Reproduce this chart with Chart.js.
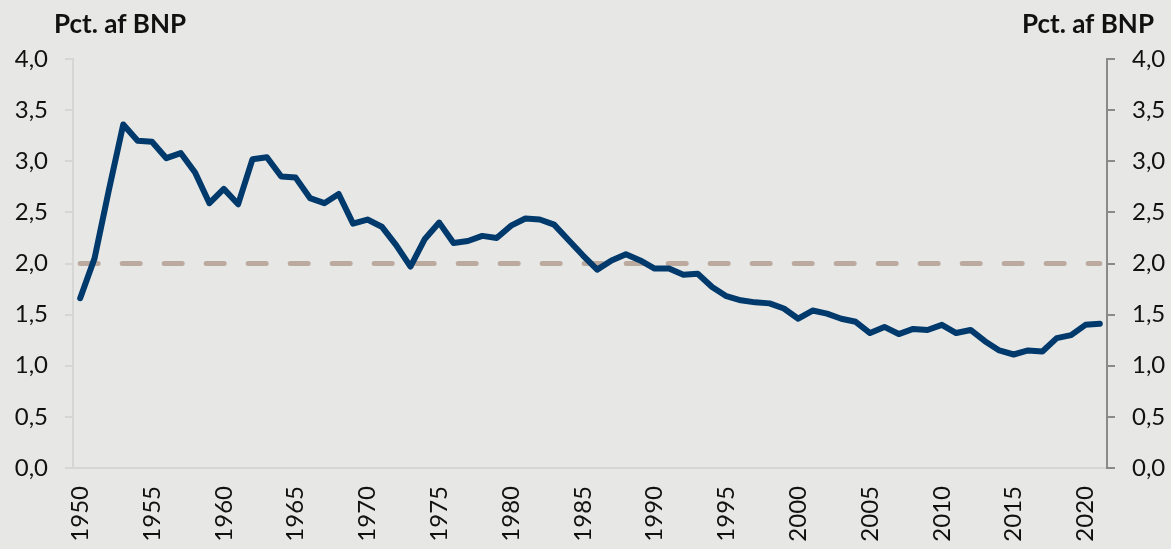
<!DOCTYPE html>
<html lang="da">
<head>
  <meta charset="UTF-8" />
  <title>Pct. af BNP</title>
  <script src="https://cdn.jsdelivr.net/npm/chart.js"></script>
  <style>
    html, body { margin: 0; padding: 0; background: #e7e7e5; }
    #wrap { width: 1171px; height: 549px; }
  </style>
</head>
<body>
  <div id="wrap"><canvas id="chart" width="1171" height="549"></canvas></div>

<script>
  // data
  const years = [
    '1950', '1951', '1952', '1953', '1954', '1955', '1956', '1957', '1958', '1959',
    '1960', '1961', '1962', '1963', '1964', '1965', '1966', '1967', '1968', '1969',
    '1970', '1971', '1972', '1973', '1974', '1975', '1976', '1977', '1978', '1979',
    '1980', '1981', '1982', '1983', '1984', '1985', '1986', '1987', '1988', '1989',
    '1990', '1991', '1992', '1993', '1994', '1995', '1996', '1997', '1998', '1999',
    '2000', '2001', '2002', '2003', '2004', '2005', '2006', '2007', '2008', '2009',
    '2010', '2011', '2012', '2013', '2014', '2015', '2016', '2017', '2018', '2019',
    '2020', '2021'
  ]
  const values = [
    1.66, 2.05, 2.72, 3.36, 3.20, 3.19, 3.03, 3.08, 2.89, 2.59,
    2.73, 2.58, 3.02, 3.04, 2.85, 2.84, 2.64, 2.59, 2.68, 2.39,
    2.43, 2.36, 2.18, 1.97, 2.24, 2.40, 2.20, 2.22, 2.27, 2.25,
    2.37, 2.44, 2.43, 2.38, 2.23, 2.08, 1.94, 2.03, 2.09, 2.03,
    1.95, 1.95, 1.89, 1.90, 1.77, 1.68, 1.64, 1.62, 1.61, 1.56,
    1.46, 1.54, 1.51, 1.46, 1.43, 1.32, 1.38, 1.31, 1.36, 1.35,
    1.40, 1.32, 1.35, 1.24, 1.15, 1.11, 1.15, 1.14, 1.27, 1.30,
    1.40, 1.41
  ]
  // 2 pct. reference line
  const refYears = ['1950', '2021']
  const refValues = [2.0, 2.0]

  const yTickLabels = ['0,0', '0,5', '1,0', '1,5', '2,0', '2,5', '3,0', '3,5', '4,0']
  const xTickLabels = ['1950', '1955', '1960', '1965', '1970', '1975', '1980', '1985',
    '1990', '1995', '2000', '2005', '2010', '2015', '2020']
  const axisTitle = 'Pct. af BNP'

  const bg = '#e7e7e5'
  const font = 'Lato, "DejaVu Sans", sans-serif'

  // background + the two axis titles
  const decor = {
    id: 'decor',
    beforeDraw(chart) {
      const ctx = chart.ctx
      ctx.save()
      ctx.fillStyle = bg
      ctx.fillRect(0, 0, chart.width, chart.height)
      ctx.restore()
    },
    afterDraw(chart) {
      const ctx = chart.ctx
      ctx.save()
      ctx.fillStyle = '#111'
      ctx.font = 'bold 26px ' + font
      ctx.textBaseline = 'alphabetic'
      ctx.textAlign = 'left'
      ctx.fillText(axisTitle, 54, 33)
      ctx.textAlign = 'right'
      ctx.fillText(axisTitle, 1154, 33)
      ctx.restore()
    }
  }

  function yAxis(position, color, width) {
    return {
      type: 'linear',
      position: position,
      min: 0,
      max: 4,
      afterFit: scale => { scale.width = width },
      afterBuildTicks: scale => {
        scale.ticks = yTickLabels.map((t, i) => ({ value: i * 0.5 }))
      },
      ticks: {
        padding: 17,
        color: '#111',
        font: { family: font, size: 24 },
        callback: (v, i) => yTickLabels[i]
      },
      grid: {
        drawOnChartArea: false,
        drawTicks: true,
        tickLength: 8,
        color: color,
        lineWidth: 2
      },
      border: { display: true, color: color, width: 2 }
    }
  }

  const ctx = document.getElementById('chart')

  new Chart(ctx, {
    type: 'line',
    data: {
      labels: years,
      datasets: [
        {
          label: 'Andel',
          data: values,
          borderColor: '#00396b',
          borderWidth: 6,
          pointRadius: 0,
          tension: 0,
          borderJoinStyle: 'round',
          borderCapStyle: 'round',
          order: 1
        },
        {
          label: '2 pct.',
          data: refYears.map((y, i) => ({ x: y, y: refValues[i] })),
          borderColor: '#bcaa9f',
          borderWidth: 5,
          borderDash: [18, 24],
          borderCapStyle: 'round',
          pointRadius: 0,
          order: 2
        }
      ]
    },
    plugins: [decor],
    options: {
      responsive: false,
      animation: false,
      layout: { padding: { top: 59, left: 0, right: 0, bottom: 0 } },
      plugins: {
        legend: { display: false },
        tooltip: { enabled: false }
      },
      scales: {
        x: {
          type: 'category',
          offset: true,
          afterFit: scale => { scale.height = 81 },
          ticks: {
            autoSkip: false,
            maxRotation: 90,
            minRotation: 90,
            padding: 18,
            color: '#111',
            font: { family: font, size: 24 },
            callback: (v, i) => xTickLabels.includes(years[i]) ? years[i] : ''
          },
          grid: { drawOnChartArea: false, drawTicks: false },
          border: { display: true, color: '#d6d6d4', width: 2 }
        },
        y: yAxis('left', '#d6d6d4', 73),
        y2: yAxis('right', '#8a8a8a', 64)
      }
    }
  })
</script>
</body>
</html>
